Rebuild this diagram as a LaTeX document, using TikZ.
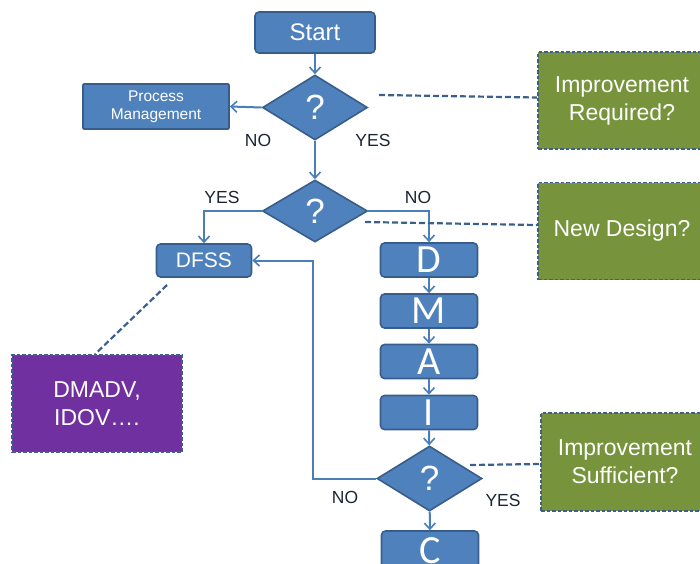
\documentclass[tikz,border=0pt]{standalone}
\usepackage{fontspec}
\setmainfont{Liberation Sans}
\newfontfamily\calib{Carlito}
\usetikzlibrary{shapes.geometric,arrows.meta}
\definecolor{bfill}{HTML}{4F81BD}
\definecolor{bdraw}{HTML}{385D8A}
\definecolor{arrowc}{HTML}{4A7EBB}
\definecolor{gfill}{HTML}{77933C}
\definecolor{pfill}{HTML}{7030A0}
\definecolor{dashc}{HTML}{3C5F8C}
\definecolor{lab}{HTML}{1A2535}
\tikzset{
  box/.style={draw=bdraw, fill=bfill, line width=1.6pt, rounded corners=4pt, text=white, inner sep=0pt},
  sqbox/.style={draw=bdraw, fill=bfill, line width=1.6pt, text=white, inner sep=0pt, align=center},
  dec/.style={diamond, draw=bdraw, fill=bfill, line width=1.6pt, text=white, inner sep=0pt, aspect=1.6, minimum width=105pt, minimum height=65pt, font=\fontsize{35}{36}\selectfont},
  note/.style={draw=dashc, dashed, line width=1.6pt, dash pattern=on 3.5pt off 2pt, text=white, inner sep=0pt, align=center, font=\fontsize{23}{28}\selectfont},
  flow/.style={draw=arrowc, line width=2pt, -{Straight Barb[length=6pt,width=11pt,line width=1.6pt]}},
  link/.style={draw=dashc, line width=2.2pt, dash pattern=on 6pt off 3pt},
  yn/.style={text=lab, font=\fontsize{17.5}{20}\selectfont},
  letter/.style={box, minimum width=97pt, minimum height=34pt, font=\calib\fontsize{40}{40}\selectfont}
}
\begin{document}
\begin{tikzpicture}[x=1pt,y=-1pt]
\useasboundingbox (0,0) rectangle (700,563);
\clip (0,0) rectangle (700,563);
% nodes
\node[box, minimum width=120pt, minimum height=41pt, font=\fontsize{24}{28}\selectfont] (start) at (315,32.5) {Start};
\node[dec] (d1) at (315,107.5) {?};
\node[sqbox, minimum width=146pt, minimum height=45pt, font=\fontsize{15.5}{18}\selectfont, rounded corners=1pt] (pm) at (156,106.5) {Process\\Management};
\node[dec, minimum height=62pt] (d2) at (315,211) {?};
\node[box, minimum width=95pt, minimum height=33pt, font=\fontsize{21}{24}\selectfont] (dfss) at (204,260.5) {DFSS};
\node[letter] (D) at (429,260) {D};
\node[letter] (M) at (429,311) {M};
\node[letter] (A) at (429,361.5) {A};
\node[letter] (I) at (429,412.5) {I};
\node[dec] (d3) at (429.5,478.5) {?};
\node[letter, minimum height=40pt] (C) at (430,551) {C};
\node[note, fill=gfill, minimum width=168pt, minimum height=97pt] (g1) at (622,100.5) {Improvement\\Required?};
\node[note, fill=gfill, minimum width=168pt, minimum height=97pt] (g2) at (622,231) {New Design?};
\node[note, fill=gfill, minimum width=168pt, minimum height=98pt] (g3) at (625,462) {Improvement\\Sufficient?};
\node[note, fill=pfill, minimum width=170pt, minimum height=97pt] (p1) at (97,403.5) {DMADV,\\IDOV….};
% labels
\node[yn] (no1) at (258,140) {NO};
\node[yn] (yes1) at (373,140) {YES};
\node[yn] (yes2) at (222,197) {YES};
\node[yn] (no2) at (418,197) {NO};
\node[yn] (no3) at (345,497) {NO};
\node[yn] (yes3) at (503,500) {YES};
% free ends of dashed links
\coordinate (e1) at (379,95);
\coordinate (e2) at (365,222);
\coordinate (e3) at (470,465);
\coordinate (e4) at (167,285);
% connectors
\draw[flow] (start) -- (d1);
\draw[flow] (d1.west) -- (pm.east);
\draw[flow] (d1) -- (d2);
\draw[flow] (d2.west) -| (dfss.north);
\draw[flow] (d2.east) -| (D.north);
\draw[flow] (D) -- (M);
\draw[flow] (M) -- (A);
\draw[flow] (A) -- (I);
\draw[flow] (I) -- (d3);
\draw[flow] (d3) -- (C);
\draw[flow] (d3.west) -- ++(-63,0) |- (dfss.east);
\draw[link] (e1) -- ([yshift=3pt]g1.west);
\draw[link] (e2) -- ([yshift=6pt]g2.west);
\draw[link] (e3) -- ([yshift=-2pt]g3.west);
\draw[link] (e4) -- ([xshift=-2pt]p1.north);
\end{tikzpicture}
\end{document}
